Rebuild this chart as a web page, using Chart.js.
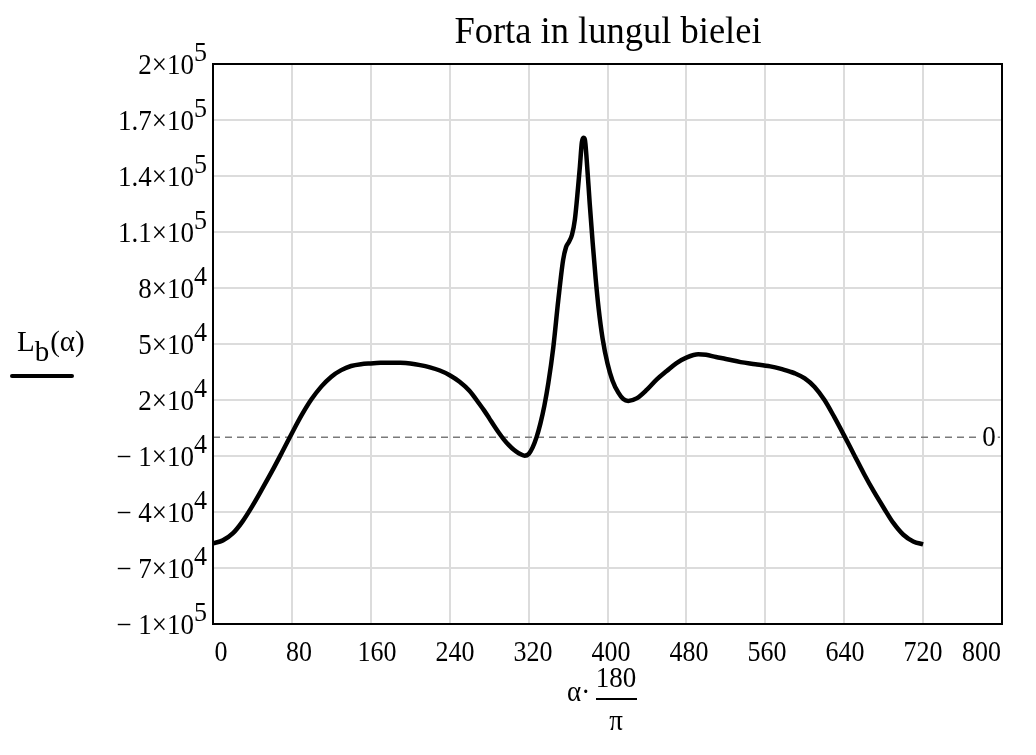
<!DOCTYPE html>
<html><head><meta charset="utf-8">
<script src="https://cdn.jsdelivr.net/npm/chart.js@4/dist/chart.umd.min.js"></script>
<style>html,body{margin:0;padding:0;background:#fff}</style>
</head><body>
<canvas id="c" width="1036" height="755"></canvas>
<script>
// ---- data ----
const alphaDeg = [0,10,20,30,40,50,60,70,80,90,100,110,120,130,140,150,160,170,180,190,200,210,220,230,240,250,260,270,275,280,285,290,295,300,305,310,316,320,324,328,332,336,340,345,350,355,358,361,364,367,370,372,374,375.5,377,379,382,385,388,391,395,400,405,411,416,421,430,440,450,460,470,480,492,500,510,520,535,550,565,575,585,590,600,610,620,630,640,650,660,670,680,690,700,710,720];
const forceLb  = [-56800,-55200,-51500,-45000,-36700,-27500,-18000,-8000,2200,12000,20500,27300,32500,36000,38200,39200,39600,39900,40000,39900,39500,38700,37500,35800,33300,29800,25000,18000,14300,10300,6200,2300,-1200,-4200,-6700,-8500,-9800,-9000,-5500,0,7500,17000,29000,48000,73000,95000,102000,104800,108500,117000,133000,145000,158000,160500,159600,148000,125000,104000,85000,69000,53000,39500,30500,23900,20500,19500,21000,25500,31000,35500,39800,42700,44500,44200,43000,42000,40300,39200,38000,36800,35200,34300,31600,27000,20000,10800,900,-9300,-19500,-29000,-37700,-46000,-52200,-55800,-57300];
const xTickValues = [0,80,160,240,320,400,480,560,640,720,800];
const yTickValues = [-100000,-70000,-40000,-10000,20000,50000,80000,110000,140000,170000,200000];
const titleText = 'Forta in lungul bielei';
const yAxisName = ['L','b','(\u03b1)'];
const xAxisName = ['\u03b1\u00b7','180','\u03c0'];
const zeroMarker = 0;

const points = alphaDeg.map((a,i)=>({x:a,y:forceLb[i]}));
const SERIF = '"Liberation Serif","Times New Roman",serif';

function sciParts(v){
  if (v === 0) return {m:'0', e:''};
  const s = v < 0 ? '\u2212 ' : '';
  const a = Math.abs(v);
  const e = Math.floor(Math.log10(a) + 1e-9);
  const m = Math.round(a / Math.pow(10,e) * 10) / 10;
  return {m: s + String(m) + '\u00d710', e: String(e)};
}
// text drawn with a slight vertical stretch (the reference face is tall)
function txt(ctx, s, x, y, size, align, sy){
  ctx.save();
  ctx.font = size + 'px ' + SERIF;
  ctx.textAlign = align; ctx.textBaseline = 'middle';
  ctx.translate(x, y); ctx.scale(1, sy);
  ctx.fillText(s, 0, 0);
  ctx.restore();
}
function tw(ctx, s, size){ ctx.font = size + 'px ' + SERIF; return ctx.measureText(s).width; }

const decor = {
  id:'decor',
  beforeDatasetsDraw(chart){
    const {ctx, chartArea:ca, scales:{y}} = chart;
    const y0 = y.getPixelForValue(zeroMarker);
    ctx.save();
    ctx.strokeStyle = '#7a7a7a'; ctx.lineWidth = 1.5; ctx.setLineDash([7,5]);
    ctx.beginPath(); ctx.moveTo(ca.left, y0); ctx.lineTo(ca.right, y0); ctx.stroke();
    ctx.restore();
  },
  afterDraw(chart){
    const {ctx, chartArea:ca, scales:{x,y}} = chart;
    ctx.save();
    ctx.fillStyle = '#000';
    // zero label at right end of the dashed line
    const y0 = y.getPixelForValue(zeroMarker);
    const zw = tw(ctx,'0',27);
    ctx.fillStyle = '#fff'; ctx.fillRect(ca.right - 13 - zw/2 - 2, y0 - 6, zw + 4, 12);
    ctx.fillStyle = '#000';
    txt(ctx, '0', ca.right - 13, y0 + 1, 27, 'center', 1.08);
    // border
    ctx.strokeStyle = '#000'; ctx.lineWidth = 2;
    ctx.strokeRect(ca.left, ca.top, ca.right - ca.left, ca.bottom - ca.top);
    // x tick labels
    xTickValues.forEach(v=>{
      const t = String(v), w = tw(ctx, t, 26);
      const cx = x.getPixelForValue(v) + 8 - v/90;
      let left = cx - w/2;
      if (left + w > ca.right - 1) left = ca.right - 1 - w;
      txt(ctx, t, left, ca.bottom + 29, 26, 'left', 1.13);
    });
    // y tick labels (mantissa x 10 with raised exponent)
    yTickValues.forEach(v=>{
      const p = sciParts(v);
      const py = y.getPixelForValue(v);
      const wm = tw(ctx, p.m, 27), we = tw(ctx, p.e, 26);
      const right = ca.left - 6;
      txt(ctx, p.m, right - we - wm, py + 2.5, 27, 'left', 1.06);
      txt(ctx, p.e, right - we, py - 10, 26, 'left', 1.02);
    });
    // title
    txt(ctx, titleText, 608, 33, 36.5, 'center', 1.05);
    // y axis label L_b(alpha) with line sample
    let lx = 17;
    txt(ctx, yAxisName[0], lx, 343, 29, 'left', 1.05); lx += tw(ctx, yAxisName[0], 29);
    txt(ctx, yAxisName[1], lx, 353, 29, 'left', 1.05); lx += tw(ctx, yAxisName[1], 29) + 1;
    txt(ctx, yAxisName[2], lx, 343, 29, 'left', 1.05);
    ctx.strokeStyle = '#000'; ctx.lineWidth = 4; ctx.lineCap = 'round';
    ctx.beginPath(); ctx.moveTo(12, 376); ctx.lineTo(72, 376); ctx.stroke();
    // x axis label  alpha * 180 / pi
    ctx.lineCap = 'butt';
    txt(ctx, xAxisName[0], 567, 693, 27, 'left', 1.08);
    txt(ctx, xAxisName[1], 616, 679, 27, 'center', 1.08);
    ctx.lineWidth = 2;
    ctx.beginPath(); ctx.moveTo(596, 699); ctx.lineTo(637, 699); ctx.stroke();
    txt(ctx, xAxisName[2], 616, 722, 27, 'center', 1.08);
    ctx.restore();
  }
};

new Chart(document.getElementById('c'), {
  type: 'line',
  data: { datasets: [{ data: points, borderColor:'#000', borderWidth:4.5, pointRadius:0,
    cubicInterpolationMode:'monotone', fill:false }] },
  options: {
    responsive:false, animation:false, devicePixelRatio:1,
    layout:{ padding:{ left:213, right:34, top:64, bottom:131 } },
    plugins:{ legend:{display:false}, tooltip:{enabled:false}, title:{display:false} },
    scales:{
      x:{ type:'linear', min:0, max:800,
          afterBuildTicks(s){ s.ticks = xTickValues.map(v=>({value:v})); },
          ticks:{ display:false }, border:{display:false},
          grid:{ color:'#dcdcdc', lineWidth:2, drawTicks:false } },
      y:{ type:'linear', min:-100000, max:200000,
          afterBuildTicks(s){ s.ticks = yTickValues.map(v=>({value:v})); },
          ticks:{ display:false }, border:{display:false},
          grid:{ color:'#dcdcdc', lineWidth:2, drawTicks:false } }
    }
  },
  plugins:[decor]
});
</script>
</body></html>
